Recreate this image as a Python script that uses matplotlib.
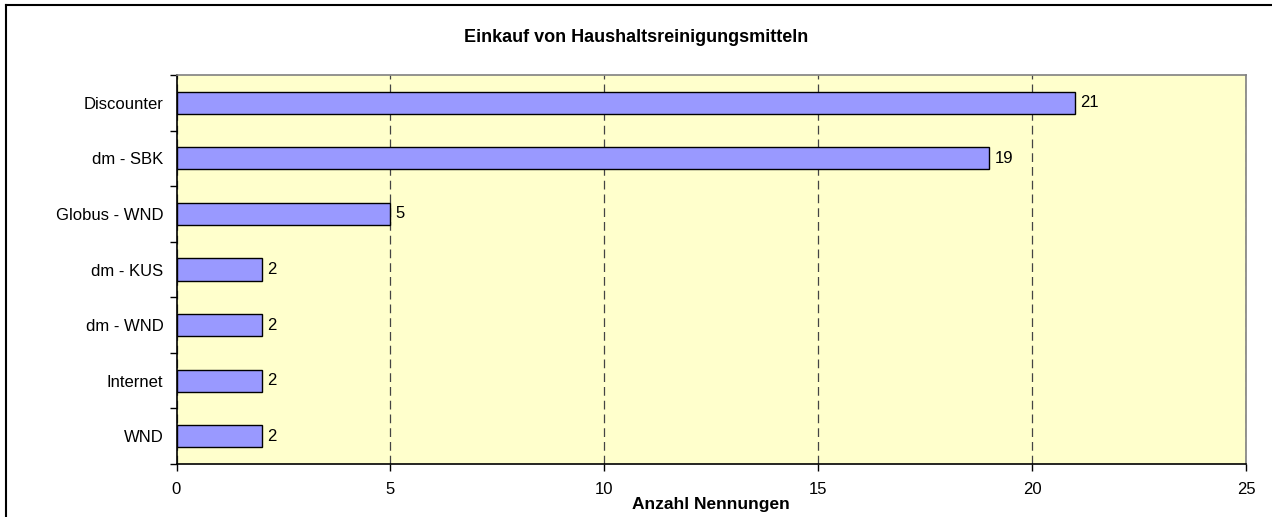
import matplotlib.pyplot as plt
from matplotlib.lines import Line2D

plt.rcParams['font.family'] = ['Liberation Sans', 'DejaVu Sans']

categories = ['Discounter', 'dm - SBK', 'Globus - WND', 'dm - KUS', 'dm - WND', 'Internet', 'WND']
values = [21, 19, 5, 2, 2, 2, 2]
x_ticks = [0, 5, 10, 15, 20, 25]

fig = plt.figure(figsize=(12.72, 5.17), dpi=100)
ax = fig.add_axes([176.5 / 1272, 1 - 464 / 517, (1246 - 176.5) / 1272, (464 - 75) / 517])
ax.set_facecolor('#FFFFCC')

pos = list(range(len(categories)))
ax.barh(pos, values, height=0.4, color='#9999FF', edgecolor='black', linewidth=1, zorder=3)
for p, v in zip(pos, values):
    ax.text(v + 0.12, p, str(v), va='center', ha='left', fontsize=12, zorder=4)

ax.set_xlim(0, 25)
ax.set_ylim(len(categories) - 0.5, -0.5)
ax.set_xticks(x_ticks)
ax.tick_params(axis='x', direction='out', length=5, width=1, labelsize=12, pad=8)
ax.set_yticks(pos)
ax.set_yticklabels(categories)
ax.set_yticks([p - 0.5 for p in pos] + [len(categories) - 0.5], minor=True)
ax.tick_params(axis='y', which='major', length=0, labelsize=12, pad=9.5)
ax.tick_params(axis='y', which='minor', direction='out', length=5, width=1)

ax.grid(axis='x', linestyle=(0, (7, 4)), color='#444444', linewidth=0.9, zorder=1)
ax.spines['top'].set_color('#808080')
ax.spines['right'].set_color('#808080')
for s in ax.spines.values():
    s.set_linewidth(1.2)

ax.set_xlabel('Anzahl Nennungen', fontsize=12.5, fontweight='bold', labelpad=0)
fig.text(636 / 1272, 1 - 38 / 517, 'Einkauf von Haushaltsreinigungsmitteln',
         ha='center', va='center', fontsize=13, fontweight='bold')

# outer chart frame (only left and top edges visible)
fig.add_artist(Line2D([6 / 1272, 6 / 1272], [0, 1 - 5 / 517], color='black', linewidth=1.5))
fig.add_artist(Line2D([6 / 1272, 1], [1 - 5 / 517, 1 - 5 / 517], color='black', linewidth=1.5))

fig.savefig('out.png', dpi=100)
